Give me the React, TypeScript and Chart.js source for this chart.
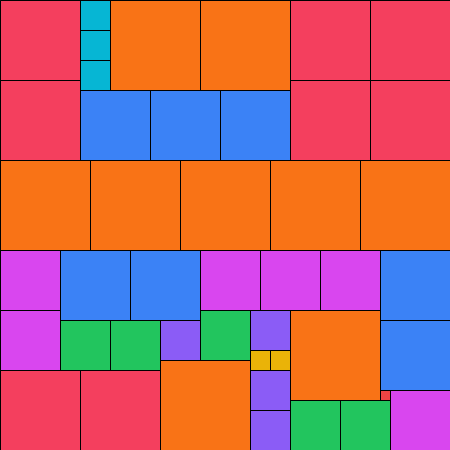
import React, { useEffect, useRef } from "react";
import { Chart, registerables } from "chart.js";

Chart.register(...registerables);

// Treemap cells (in value units on a 0..450 grid): left, top, side length, group
const cellGroup = [
  "rose", "rose", "rose", "rose", "rose", "rose", "rose", "rose",
  "cyan", "cyan", "cyan",
  "orange", "orange", "orange", "orange", "orange", "orange", "orange", "orange", "orange",
  "blue", "blue", "blue", "blue", "blue", "blue", "blue",
  "fuchsia", "fuchsia", "fuchsia", "fuchsia", "fuchsia", "fuchsia",
  "green", "green", "green", "green", "green",
  "violet", "violet", "violet", "violet",
  "yellow", "yellow",
  "red",
];
const cellLeft = [
  0, 290, 370, 0, 290, 370, 0, 80,
  80, 80, 80,
  110, 200, 0, 90, 180, 270, 360, 290, 160,
  80, 150, 220, 60, 130, 380, 380,
  0, 0, 200, 260, 320, 390,
  60, 110, 200, 290, 340,
  160, 250, 250, 250,
  250, 270,
  380,
];
const cellTop = [
  0, 0, 0, 80, 80, 80, 370, 370,
  0, 30, 60,
  0, 0, 160, 160, 160, 160, 160, 310, 360,
  90, 90, 90, 250, 250, 250, 320,
  250, 310, 250, 250, 250, 390,
  320, 320, 310, 400, 400,
  320, 310, 370, 410,
  350, 350,
  390,
];
const cellSide = [
  80, 80, 80, 80, 80, 80, 80, 80,
  30, 30, 30,
  90, 90, 90, 90, 90, 90, 90, 90, 90,
  70, 70, 70, 70, 70, 70, 70,
  60, 60, 60, 60, 60, 60,
  50, 50, 50, 50, 50,
  40, 40, 40, 40,
  20, 20,
  10,
];

const groupColors: Record<string, string> = {
  rose: "#F43F5E",
  cyan: "#06B6D4",
  orange: "#F97316",
  blue: "#3B82F6",
  fuchsia: "#D946EF",
  green: "#22C55E",
  violet: "#8B5CF6",
  yellow: "#EAB308",
  red: "#EF4444",
};

export default function App() {
  const ref = useRef<HTMLCanvasElement | null>(null);
  useEffect(() => {
    document.body.style.margin = "0";
    const canvas = ref.current;
    if (!canvas) return;
    const datasets = cellGroup.map((g, i) => {
      const x0 = cellLeft[i];
      const y0 = cellTop[i];
      const x1 = x0 + cellSide[i];
      const y1 = y0 + cellSide[i];
      return {
        label: g,
        data: [
          { x: x0, y: y0 },
          { x: x1, y: y0 },
          { x: x1, y: y1 },
          { x: x0, y: y1 },
          { x: x0, y: y0 },
        ],
        showLine: true,
        fill: "shape",
        backgroundColor: groupColors[g],
        borderColor: "#000000",
        borderWidth: 1,
        borderCapStyle: "square",
        borderJoinStyle: "miter",
        pointRadius: 0,
        pointHoverRadius: 0,
        tension: 0,
      };
    });
    const chart = new Chart(canvas, {
      type: "scatter",
      data: { datasets: datasets as any },
      options: {
        responsive: false,
        animation: false,
        events: [],
        layout: { padding: 0 },
        scales: {
          x: { type: "linear", min: -0.5, max: 449.5, display: false },
          y: { type: "linear", min: -0.5, max: 449.5, reverse: true, display: false },
        },
        plugins: {
          legend: { display: false },
          tooltip: { enabled: false },
          filler: { drawTime: "beforeDatasetsDraw" },
        } as any,
      },
    });
    return () => chart.destroy();
  }, []);
  return (
    <div style={{ width: 450, height: 450 }}>
      <canvas ref={ref} width={450} height={450} style={{ display: "block" }} />
    </div>
  );
}
